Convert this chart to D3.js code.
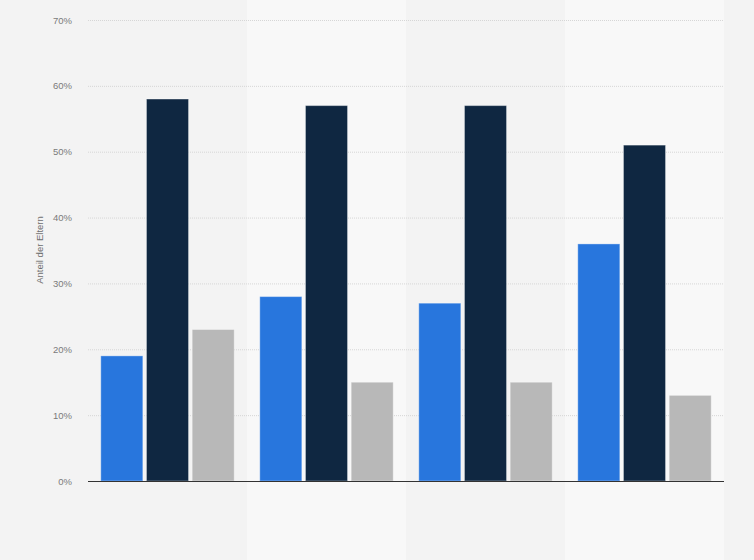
<!DOCTYPE html>
<html>
<head>
<meta charset="utf-8">
<script src="https://cdn.jsdelivr.net/npm/d3@7"></script>
<style>
  body { margin: 0; background: #f3f3f3; }
  svg { display: block; font-family: "Liberation Sans", Arial, sans-serif; }
</style>
</head>
<body>
<svg id="canvas" width="754" height="560"></svg>
<script>
// groups (no visible category labels in the reference)
let groups = ['A', 'B', 'C', 'D']
let seriesNames = ['s1', 's2', 's3']
let s1Values = [19, 28, 27, 36]
let s2Values = [58, 57, 57, 51]
let s3Values = [23, 15, 15, 13]
let yTicks = [0, 10, 20, 30, 40, 50, 60, 70]
let colors = ['#2876dd', '#0f2741', '#b8b8b8']

let width = 754
let height = 560
let plotLeft = 88, plotRight = 724, plotTop = 20, plotBottom = 481

let canvas = d3.select('#canvas')

let xScale = d3.scaleBand()
    .domain(groups)
    .range([plotLeft, plotRight])
    .paddingInner(0)
    .paddingOuter(0)

let xInner = d3.scaleBand()
    .domain(seriesNames)
    .range([0, xScale.bandwidth()])
    .paddingInner(0.08)
    .paddingOuter(0.28)

let yScale = d3.scaleLinear()
    .domain([0, 70])
    .range([plotBottom, plotTop])

// alternating band backgrounds
canvas.append('rect')
    .attr('x', 0).attr('y', 0)
    .attr('width', width).attr('height', height)
    .attr('fill', '#f3f3f3')

canvas.selectAll('rect.band')
    .data(groups)
    .enter()
    .append('rect')
    .attr('class', 'band')
    .attr('x', (g) => xScale(g))
    .attr('y', 0)
    .attr('width', xScale.bandwidth())
    .attr('height', height)
    .attr('fill', (g, i) => i % 2 === 1 ? '#f8f8f8' : '#f3f3f3')

// grid lines
canvas.selectAll('line.grid')
    .data(yTicks.filter((t) => t > 0))
    .enter()
    .append('line')
    .attr('class', 'grid')
    .attr('x1', plotLeft)
    .attr('x2', plotRight)
    .attr('y1', (t) => yScale(t) + 0.5)
    .attr('y2', (t) => yScale(t) + 0.5)
    .attr('stroke', '#d6d6d6')
    .attr('stroke-width', 1)
    .attr('stroke-dasharray', '1,1')

// tick labels
canvas.selectAll('text.tick')
    .data(yTicks)
    .enter()
    .append('text')
    .attr('class', 'tick')
    .attr('x', 72)
    .attr('y', (t) => yScale(t) + 3.5)
    .attr('text-anchor', 'end')
    .attr('font-size', '9.5px')
    .attr('fill', '#7a7a7a')
    .text((t) => t + '%')

// axis title
canvas.append('text')
    .attr('transform', 'translate(43, 250) rotate(-90)')
    .attr('text-anchor', 'middle')
    .attr('font-size', '9.5px')
    .attr('fill', '#6e6e6e')
    .text('Anteil der Eltern')

// bars
let allSeries = [s1Values, s2Values, s3Values]
let barData = []
groups.forEach((g, gi) => {
    seriesNames.forEach((s, si) => {
        barData.push({ group: g, series: s, value: allSeries[si][gi], color: colors[si] })
    })
})

canvas.selectAll('rect.bar')
    .data(barData)
    .enter()
    .append('rect')
    .attr('class', 'bar')
    .attr('x', (d) => xScale(d.group) + xInner(d.series))
    .attr('y', (d) => yScale(d.value))
    .attr('width', xInner.bandwidth())
    .attr('height', (d) => plotBottom - yScale(d.value))
    .attr('fill', (d) => d.color)
    .attr('stroke', 'rgba(255,255,255,0.35)')
    .attr('stroke-width', 1)

// x axis line
canvas.append('line')
    .attr('x1', plotLeft)
    .attr('x2', plotRight)
    .attr('y1', plotBottom + 0.5)
    .attr('y2', plotBottom + 0.5)
    .attr('stroke', '#333')
    .attr('stroke-width', 1)
</script>
</body>
</html>
